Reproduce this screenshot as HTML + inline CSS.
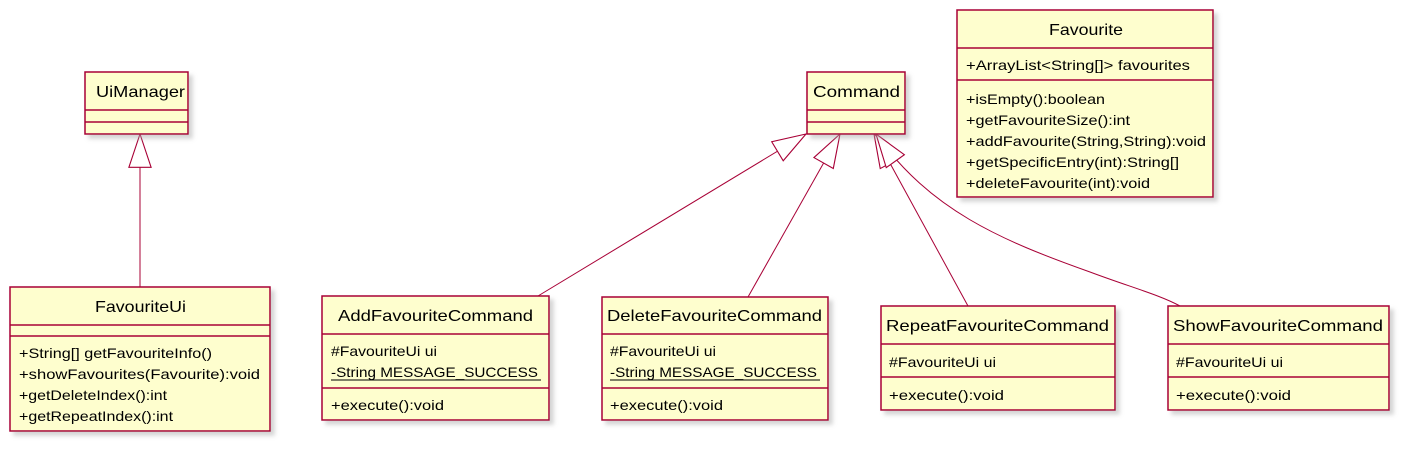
<!DOCTYPE html>
<html><head><meta charset="utf-8"><style>
html,body{margin:0;padding:0;background:#fff;}
svg{display:block;}
text{font-family:"Liberation Sans",Arial,sans-serif;fill:#000;}
.b{fill:#FEFECE;stroke:#A80036;stroke-width:1.5;filter:url(#sh);}
.l{stroke:#A80036;stroke-width:1.5;}
.c{stroke:#A80036;stroke-width:1;fill:none;marker-start:url(#tri);}
.h{font-size:16px;}
.m{font-size:14px;}
</style></head><body>
<svg width="1404" height="450" xmlns="http://www.w3.org/2000/svg">
<defs>
<filter id="sh" x="-10%" y="-10%" width="130%" height="130%">
<feGaussianBlur in="SourceAlpha" stdDeviation="2"/>
<feOffset dx="4" dy="4" result="o"/>
<feColorMatrix in="o" type="matrix" values="0 0 0 0 0.4  0 0 0 0 0.4  0 0 0 0 0.4  0 0 0 0.5 0"/>
<feMerge><feMergeNode/><feMergeNode in="SourceGraphic"/></feMerge>
</filter>
<marker id="tri" markerUnits="userSpaceOnUse" markerWidth="40" markerHeight="40" refX="0" refY="0" orient="auto" viewBox="-2 -12 36 24" style="overflow:visible">
<path d="M0,0 L30,-10 L30,10 Z" fill="#fff" stroke="#A80036" stroke-width="1"/>
</marker>
</defs>

<path class="c" d="M140,134 L140,287"/>
<path class="c" d="M806,134 L538,296"/>
<path class="c" d="M840,134 L748,297"/>
<path class="c" d="M874,134 L968,306"/>
<path class="c" d="M876,134 C930,210 1000,240 1090,272 C1130,287 1160,295 1180,306"/>

<!-- UiManager -->
<rect class="b" x="85" y="72" width="103" height="62"/>
<line class="l" x1="85" y1="110" x2="188" y2="110"/>
<line class="l" x1="85" y1="122" x2="188" y2="122"/>
<text class="h" x="96" y="97" textLength="89" lengthAdjust="spacingAndGlyphs">UiManager</text>

<!-- FavouriteUi -->
<rect class="b" x="10" y="287" width="260" height="144"/>
<line class="l" x1="10" y1="325" x2="270" y2="325"/>
<line class="l" x1="10" y1="336" x2="270" y2="336"/>
<text class="h" x="95" y="312" textLength="91" lengthAdjust="spacingAndGlyphs">FavouriteUi</text>
<text class="m" x="19" y="358" textLength="193" lengthAdjust="spacingAndGlyphs">+String[] getFavouriteInfo()</text>
<text class="m" x="19" y="379" textLength="241" lengthAdjust="spacingAndGlyphs">+showFavourites(Favourite):void</text>
<text class="m" x="19" y="400" textLength="148" lengthAdjust="spacingAndGlyphs">+getDeleteIndex():int</text>
<text class="m" x="19" y="421" textLength="154" lengthAdjust="spacingAndGlyphs">+getRepeatIndex():int</text>

<!-- Command -->
<rect class="b" x="807" y="72" width="98" height="62"/>
<line class="l" x1="807" y1="110" x2="905" y2="110"/>
<line class="l" x1="807" y1="122" x2="905" y2="122"/>
<text class="h" x="813" y="97" textLength="87" lengthAdjust="spacingAndGlyphs">Command</text>

<!-- Favourite -->
<rect class="b" x="957" y="10" width="256" height="187"/>
<line class="l" x1="957" y1="48" x2="1213" y2="48"/>
<line class="l" x1="957" y1="80" x2="1213" y2="80"/>
<text class="h" x="1049" y="35" textLength="74" lengthAdjust="spacingAndGlyphs">Favourite</text>
<text class="m" x="966" y="70" textLength="224" lengthAdjust="spacingAndGlyphs">+ArrayList&lt;String[]&gt; favourites</text>
<text class="m" x="966" y="104" textLength="139" lengthAdjust="spacingAndGlyphs">+isEmpty():boolean</text>
<text class="m" x="966" y="125" textLength="164" lengthAdjust="spacingAndGlyphs">+getFavouriteSize():int</text>
<text class="m" x="966" y="146" textLength="240" lengthAdjust="spacingAndGlyphs">+addFavourite(String,String):void</text>
<text class="m" x="966" y="167" textLength="213" lengthAdjust="spacingAndGlyphs">+getSpecificEntry(int):String[]</text>
<text class="m" x="966" y="188" textLength="184" lengthAdjust="spacingAndGlyphs">+deleteFavourite(int):void</text>

<!-- AddFavouriteCommand -->
<rect class="b" x="322" y="296" width="227" height="124"/>
<line class="l" x1="322" y1="334" x2="549" y2="334"/>
<line class="l" x1="322" y1="388" x2="549" y2="388"/>
<text class="h" x="338" y="321" textLength="195" lengthAdjust="spacingAndGlyphs">AddFavouriteCommand</text>
<text class="m" x="331" y="356" textLength="106" lengthAdjust="spacingAndGlyphs">#FavouriteUi ui</text>
<text class="m" x="331" y="377" textLength="207" lengthAdjust="spacingAndGlyphs">-String MESSAGE_SUCCESS</text>
<line x1="331" y1="380" x2="541" y2="380" stroke="#000" stroke-width="1"/>
<text class="m" x="331" y="410" textLength="113" lengthAdjust="spacingAndGlyphs">+execute():void</text>

<!-- DeleteFavouriteCommand -->
<rect class="b" x="602" y="297" width="226" height="123"/>
<line class="l" x1="602" y1="334" x2="828" y2="334"/>
<line class="l" x1="602" y1="388" x2="828" y2="388"/>
<text class="h" x="607" y="321" textLength="215" lengthAdjust="spacingAndGlyphs">DeleteFavouriteCommand</text>
<text class="m" x="610" y="356" textLength="106" lengthAdjust="spacingAndGlyphs">#FavouriteUi ui</text>
<text class="m" x="610" y="377" textLength="207" lengthAdjust="spacingAndGlyphs">-String MESSAGE_SUCCESS</text>
<line x1="610" y1="380" x2="820" y2="380" stroke="#000" stroke-width="1"/>
<text class="m" x="610" y="410" textLength="113" lengthAdjust="spacingAndGlyphs">+execute():void</text>

<!-- RepeatFavouriteCommand -->
<rect class="b" x="881" y="306" width="234" height="104"/>
<line class="l" x1="881" y1="344" x2="1115" y2="344"/>
<line class="l" x1="881" y1="377" x2="1115" y2="377"/>
<text class="h" x="886" y="331" textLength="223" lengthAdjust="spacingAndGlyphs">RepeatFavouriteCommand</text>
<text class="m" x="889" y="367" textLength="107" lengthAdjust="spacingAndGlyphs">#FavouriteUi ui</text>
<text class="m" x="889" y="400" textLength="115" lengthAdjust="spacingAndGlyphs">+execute():void</text>

<!-- ShowFavouriteCommand -->
<rect class="b" x="1168" y="306" width="221" height="104"/>
<line class="l" x1="1168" y1="344" x2="1389" y2="344"/>
<line class="l" x1="1168" y1="377" x2="1389" y2="377"/>
<text class="h" x="1173" y="331" textLength="210" lengthAdjust="spacingAndGlyphs">ShowFavouriteCommand</text>
<text class="m" x="1176" y="367" textLength="107" lengthAdjust="spacingAndGlyphs">#FavouriteUi ui</text>
<text class="m" x="1176" y="400" textLength="115" lengthAdjust="spacingAndGlyphs">+execute():void</text>
</svg>
</body></html>
